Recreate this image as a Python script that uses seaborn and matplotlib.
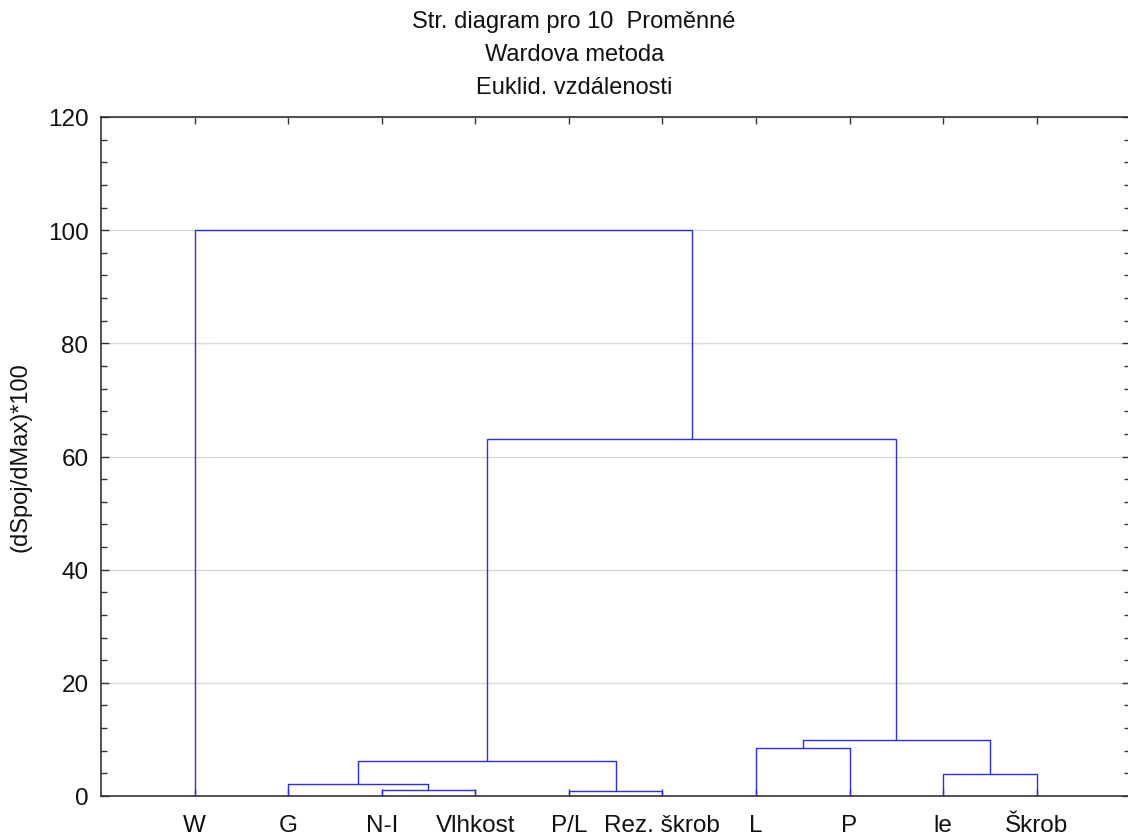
import numpy as np
import pandas as pd
import seaborn as sns
import matplotlib.pyplot as plt
from matplotlib.ticker import MultipleLocator

# leaf order as shown on the x axis
leaves = ["W", "G", "N-I", "Vlhkost", "P/L", "Rez. škrob", "L", "P", "le", "Škrob"]

# merge steps: cluster a + cluster b at height (ids 0-9 = leaves, 10+ = merges in order)
merge_a = [2, 4, 1, 12, 8, 6, 15, 13, 0]
merge_b = [3, 5, 10, 11, 9, 7, 14, 16, 17]
merge_height = [1.1, 0.95, 2.2, 6.2, 3.9, 8.5, 9.9, 63.1, 100.0]

sns.set_style('white')
plt.rcParams['font.family'] = ['Liberation Sans', 'DejaVu Sans']
plt.rcParams['text.color'] = '#111111'
plt.rcParams['xtick.labelcolor'] = '#111111'
plt.rcParams['ytick.labelcolor'] = '#111111'
plt.rcParams['axes.labelcolor'] = '#111111'

# build the U shaped links from the merge table
xpos = {i: i + 1 for i in range(len(leaves))}
ypos = {i: 0.0 for i in range(len(leaves))}
rows = []
for k, (a, b, h) in enumerate(zip(merge_a, merge_b, merge_height)):
    cid = len(leaves) + k
    xs = [xpos[a], xpos[a], xpos[b], xpos[b]]
    ys = [ypos[a], h, h, ypos[b]]
    for j in range(4):
        rows.append({'link': k, 'order': j, 'x': xs[j], 'y': ys[j]})
    xpos[cid] = (xpos[a] + xpos[b]) / 2
    ypos[cid] = h
links = pd.DataFrame(rows)

fig = plt.figure(figsize=(11.28, 8.37), dpi=100)
ax = fig.add_axes([101 / 1128, 40 / 837, 1 - 101 / 1128 + 0.002, 679 / 837])

ax.yaxis.grid(True, color='#d9d9d9', lw=1.0)
ax.set_axisbelow(True)

sns.lineplot(data=links, x='x', y='y', units='link', estimator=None, sort=False,
             color='#2a2aff', lw=1.0, ax=ax, zorder=3)

ax.set_xlim(0, 11)
ax.set_ylim(0, 120)
ax.set_xticks(range(1, len(leaves) + 1))
ax.set_xticklabels(leaves, fontsize=17.5)
ax.yaxis.set_major_locator(MultipleLocator(20))
ax.yaxis.set_minor_locator(MultipleLocator(4))
ax.tick_params(axis='y', labelsize=17.5, pad=9)
ax.tick_params(axis='x', pad=13)
ax.tick_params(which='both', direction='in', color='#333333', width=1.0)
ax.tick_params(axis='x', which='major', length=5, top=True, bottom=True)
ax.tick_params(axis='y', which='major', length=6, left=True, right=True)
ax.tick_params(axis='y', which='minor', length=4, left=True, right=True)

for s in ['left', 'bottom', 'top']:
    ax.spines[s].set_color('#333333')
    ax.spines[s].set_linewidth(1.2)
ax.spines['right'].set_visible(False)

ax.set_xlabel('')
ax.set_ylabel('(dSpoj/dMax)*100', fontsize=17, labelpad=12)

title_lines = ['Str. diagram pro 10  Proměnné', 'Wardova metoda', 'Euklid. vzdálenosti']
for i, t in enumerate(title_lines):
    fig.text(0.509, 1 - (22 + 33 * i) / 837, t, ha='center', va='center', fontsize=17)

fig.savefig('out.png', dpi=100)
